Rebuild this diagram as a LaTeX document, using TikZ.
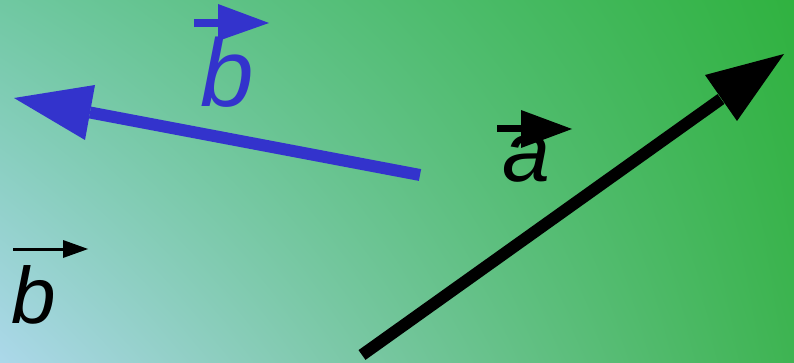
\documentclass[tikz,border=0pt]{standalone}
\usepackage{fontspec}
\setmainfont{Liberation Sans}
\usetikzlibrary{shadings}
\definecolor{vblue}{RGB}{51,51,204}
\definecolor{cTL}{RGB}{112,200,162}
\definecolor{cTR}{RGB}{48,178,64}
\definecolor{cBL}{RGB}{172,216,234}
\definecolor{cBR}{RGB}{62,180,82}
\tikzset{
  shaft/.style={line width=#1, line cap=butt},
  letter/.style={anchor=base west, inner sep=0pt, outer sep=0pt, font=\itshape\fontsize{#1}{#1}\selectfont},
}
\begin{document}
\begin{tikzpicture}[x=1pt,y=-1pt]
\useasboundingbox (0,0) rectangle (794,363);
\shade[upper left=cTL, upper right=cTR, lower left=cBL, lower right=cBR] (0,0) rectangle (794,363);
% blue arrow
\coordinate (bt) at (420,175);
\coordinate (bb) at (90,112.5);
\coordinate (bh) at (14,98);
\coordinate (bc1) at (95,85);
\coordinate (bc2) at (85,140);
\draw[shaft=12pt, vblue] (bt) -- (bb);
\fill[vblue] (bh) -- (bc1) -- (bc2) -- cycle;
% black arrow
\coordinate (at) at (362,355);
\coordinate (ab) at (721,99);
\coordinate (ah) at (784,54);
\coordinate (ac1) at (705,75);
\coordinate (ac2) at (737,121);
\draw[shaft=12pt, black] (at) -- (ab);
\fill[black] (ah) -- (ac1) -- (ac2) -- cycle;
% blue label
\node[letter=96, text=vblue] (lb1) at (200,107) {b};
\coordinate (v1s) at (194,23);
\coordinate (v1e) at (220,23);
\draw[shaft=8pt, vblue] (v1s) -- (v1e);
\fill[vblue] (269,23) coordinate (v1h) -- (218,4) coordinate (v1a) -- (218,41) coordinate (v1b) -- cycle;
% a label
\node[letter=86] (la) at (502,182) {a};
\coordinate (v2s) at (497,128.5);
\coordinate (v2e) at (523,128.5);
\draw[shaft=7pt, black] (v2s) -- (v2e);
\fill[black] (572,129) coordinate (v2h) -- (521,110) coordinate (v2a) -- (521,148) coordinate (v2b) -- cycle;
% black b label
\node[letter=80] (lb2) at (11,323) {b};
\coordinate (v3s) at (13,249);
\coordinate (v3e) at (64,249);
\draw[shaft=3pt, black] (v3s) -- (v3e);
\fill[black] (88,249) coordinate (v3h) -- (63,240) coordinate (v3a) -- (63,258) coordinate (v3b) -- cycle;
\end{tikzpicture}
\end{document}
